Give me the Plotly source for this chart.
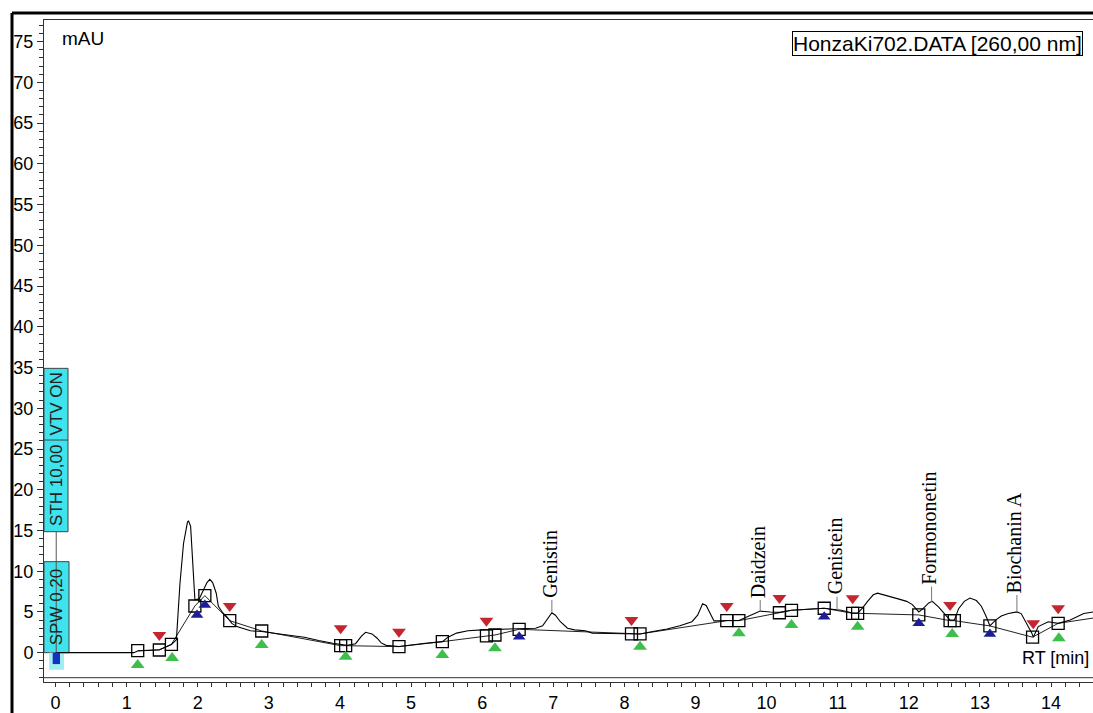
import plotly.graph_objects as go

# ---- chromatogram trace: retention time [min] vs absorbance [mAU] ----
rt = [0.0, 1.10, 1.156, 1.46, 1.63, 1.70, 1.75, 1.80, 1.855, 1.87, 1.90, 1.93, 1.96,
      2.02, 2.08, 2.13, 2.17, 2.21, 2.26, 2.29, 2.35, 2.41, 2.48, 2.55, 2.74, 2.9,
      3.1, 3.3, 3.5, 3.7, 3.9, 4.1, 4.22, 4.30, 4.36, 4.45, 4.52, 4.58, 4.65, 4.83,
      5.0, 5.2, 5.44, 5.52, 5.64, 5.8, 6.0, 6.2, 6.52, 6.75, 6.85, 6.93, 6.98, 7.03,
      7.1, 7.2, 7.3, 7.45, 7.55, 7.8, 8.1, 8.22, 8.4, 8.6, 8.78, 8.95, 9.03, 9.1,
      9.15, 9.21, 9.26, 9.35, 9.44, 9.61, 9.72, 9.85, 9.91, 10.05, 10.18, 10.35,
      10.5, 10.81, 10.95, 11.05, 11.15, 11.21, 11.28, 11.35, 11.42, 11.5, 11.56,
      11.7, 11.85, 11.97, 12.05, 12.14, 12.2, 12.28, 12.33, 12.42, 12.5, 12.58,
      12.64, 12.7, 12.78, 12.86, 12.95, 13.02, 13.08, 13.14, 13.22, 13.3, 13.4,
      13.52, 13.58, 13.66, 13.73, 13.75, 13.82, 13.96, 14.1, 14.27, 14.46, 14.6]
mau = [0.0, 0.0, 0.2, 0.35, 1.0, 1.6, 8.5, 13.4, 16.0, 16.2, 15.5, 10.6, 6.5,
       6.6, 7.6, 8.6, 9.0, 8.6, 7.3, 5.7, 4.9, 4.4, 3.6, 3.2, 2.7, 2.6,
       2.35, 2.1, 1.9, 1.5, 1.15, 0.9, 1.1, 2.0, 2.5, 2.3, 1.8, 1.2, 0.9, 0.75,
       0.95, 1.15, 1.35, 1.9, 2.4, 2.7, 2.8, 2.85, 2.9, 3.0, 3.3, 4.3, 4.9, 4.6,
       3.8, 3.0, 2.8, 2.7, 2.4, 2.35, 2.3, 2.3, 2.6, 2.9, 3.3, 3.8, 4.6, 6.0,
       5.8, 4.8, 3.9, 3.9, 3.95, 3.95, 4.4, 4.9, 5.1, 5.0, 4.95, 5.2,
       5.3, 5.45, 5.3, 5.2, 5.0, 4.85, 4.85, 5.5, 6.3, 7.1, 7.3,
       7.0, 6.6, 6.3, 5.9, 5.0, 5.4, 6.1, 6.3, 5.6, 4.8, 4.0,
       4.0, 5.4, 6.3, 6.7, 6.4, 5.7, 4.6, 3.3, 4.0, 4.5, 4.8,
       5.0, 4.8, 3.6, 2.4, 1.9, 3.2, 3.8, 3.6, 4.0, 4.8, 5.0]

# ---- integration baseline (open squares) ----
base_rt = [1.156, 1.46, 1.63, 1.96, 2.10, 2.45, 2.90, 4.01, 4.08, 4.83, 5.44, 6.06,
           6.18, 6.52, 8.10, 8.22, 9.44, 9.61, 10.18, 10.35, 10.81, 11.21, 11.28,
           12.14, 12.58, 12.64, 13.14, 13.74, 14.10]
base_mau = [0.25, 0.33, 1.03, 5.73, 7.0, 3.93, 2.66, 0.86, 0.86, 0.74, 1.35, 2.05,
            2.17, 2.87, 2.3, 2.3, 3.93, 3.93, 4.9, 5.2, 5.45, 4.83, 4.83,
            4.63, 3.93, 3.93, 3.28, 1.9, 3.6]
base_tail_rt = [14.10, 14.6]
base_tail_mau = [3.6, 4.26]

# ---- peak event flags ----
end_rt = [1.46, 2.45, 4.01, 4.83, 6.06, 8.10, 9.44, 10.18, 11.21, 12.58, 13.75, 14.10]
end_mau = [2.17, 5.73, 3.0, 2.58, 3.93, 4.01, 5.73, 6.71, 6.68, 5.85, 3.6, 5.45]

start_rt = [1.156, 1.64, 2.90, 4.08, 5.44, 6.18, 8.22, 9.61, 10.35, 11.28, 12.61, 14.11]
start_mau = [-1.5, -0.65, 0.95, -0.49, -0.28, 0.54, 0.74, 2.38, 3.4, 3.19, 2.3, 1.77]

valley_rt = [1.99, 2.10, 6.52, 10.81, 12.14, 13.14]
valley_mau = [4.63, 5.85, 1.96, 4.42, 3.6, 2.3]

# ---- identified compounds ----
peak_names = ["Genistin", "Daidzein", "Genistein", "Formononetin", "Biochanin A"]
peak_rt = [6.98, 9.91, 10.99, 12.32, 13.52]
peak_top = [4.9, 5.03, 5.24, 6.26, 5.03]
label_base = [6.47, 6.47, 6.87, 8.1, 7.08]

x_ticks = list(range(0, 15))
y_ticks = list(range(0, 80, 5))

X_RANGE = [-0.162, 14.59]
Y_RANGE = [-3.6, 77.66]

RED = "#c3262e"
GREEN = "#3dbf4c"
BLUE = "#1d1d9a"
CYAN = "#3fe3ee"
SANS = "Liberation Sans"

fig = go.Figure()

fig.add_trace(go.Scatter(x=base_rt + base_tail_rt[1:], y=base_mau + base_tail_mau[1:],
                         mode="lines", line=dict(color="#222222", width=1),
                         hoverinfo="skip", showlegend=False))
fig.add_trace(go.Scatter(x=rt, y=mau, mode="lines",
                         line=dict(color="black", width=1.1),
                         showlegend=False))
fig.add_trace(go.Scatter(x=base_rt, y=base_mau, mode="markers",
                         marker=dict(symbol="square-open", size=12, color="black",
                                     line=dict(width=1.3)),
                         showlegend=False))
fig.add_trace(go.Scatter(x=end_rt, y=end_mau, mode="markers",
                         marker=dict(symbol="triangle-down", size=12, color=RED),
                         showlegend=False))
fig.add_trace(go.Scatter(x=start_rt, y=start_mau, mode="markers",
                         marker=dict(symbol="triangle-up", size=12, color=GREEN),
                         showlegend=False))
fig.add_trace(go.Scatter(x=valley_rt, y=valley_mau, mode="markers",
                         marker=dict(symbol="triangle-up", size=11, color=BLUE),
                         showlegend=False))

shapes = []
# leader lines from the peak apex to its name
for x, y0, y1 in zip(peak_rt, peak_top, label_base):
    shapes.append(dict(type="line", xref="x", yref="y", x0=x, x1=x, y0=y0, y1=y1,
                       line=dict(color="#777777", width=1)))

# parameter boxes at t = 0
shapes += [
    dict(type="rect", xref="x", yref="y", x0=-0.162, x1=0.176, y0=14.85, y1=34.9,
         fillcolor=CYAN, line=dict(color="#444444", width=1), layer="below"),
    dict(type="line", xref="x", yref="y", x0=-0.162, x1=0.176, y0=26.1, y1=26.1,
         line=dict(color="#444444", width=1)),
    dict(type="rect", xref="x", yref="y", x0=-0.162, x1=0.19, y0=0, y1=11.17,
         fillcolor=CYAN, line=dict(color="#444444", width=1), layer="below"),
    dict(type="line", xref="x", yref="y", x0=0.01, x1=0.01, y0=0, y1=14.85,
         line=dict(color="#555555", width=1)),
    dict(type="rect", xref="x", yref="y", x0=-0.09, x1=0.12, y0=-2.1, y1=0,
         fillcolor="#9eeef4", line=dict(width=0), layer="below"),
    dict(type="rect", xref="x", yref="y", x0=-0.04, x1=0.063, y0=-1.4, y1=0,
         fillcolor="#1530c0", line=dict(width=0)),
]
# double bottom axis rule and outer frame
shapes += [
    dict(type="line", xref="paper", yref="paper", x0=0, x1=1, y0=0.0065, y1=0.0065,
         line=dict(color="#333333", width=1)),
    dict(type="line", xref="paper", yref="paper", x0=-0.0305, x1=-0.0305, y0=-0.1, y1=1.0106,
         line=dict(color="black", width=3)),
    dict(type="line", xref="paper", yref="paper", x0=-0.0305, x1=1.05, y0=1.0106, y1=1.0106,
         line=dict(color="black", width=3)),
]

annotations = []
for name, x, yb in zip(peak_names, peak_rt, label_base):
    annotations.append(dict(x=x, y=yb, xref="x", yref="y", text=name, showarrow=False,
                            textangle=-90, xanchor="center", yanchor="bottom", xshift=-2,
                            font=dict(family="Liberation Serif", size=20, color="black")))

annotations += [
    dict(x=0.01, y=20.5, xref="x", yref="y", text="STH 10,00", showarrow=False,
         textangle=-90, font=dict(family=SANS, size=17, color="#222222")),
    dict(x=0.01, y=30.5, xref="x", yref="y", text="VTV ON", showarrow=False,
         textangle=-90, font=dict(family=SANS, size=17, color="#222222")),
    dict(x=0.01, y=5.6, xref="x", yref="y", text="SPW 0,20", showarrow=False,
         textangle=-90, font=dict(family=SANS, size=17, color="#222222")),
    dict(x=0.0153, y=0.972, xref="paper", yref="paper", text="mAU", showarrow=False,
         xanchor="left", yanchor="middle",
         font=dict(family=SANS, size=19, color="black")),
    dict(x=0.990, y=0.965, xref="paper", yref="paper", text="HonzaKi702.DATA [260,00 nm]",
         showarrow=False, xanchor="right", yanchor="middle",
         bordercolor="black", borderwidth=1, borderpad=0,
         font=dict(family=SANS, size=21, color="black")),
    dict(x=0.998, y=0.036, xref="paper", yref="paper", text="RT [min]", showarrow=False,
         xanchor="right", yanchor="middle",
         font=dict(family=SANS, size=18, color="black")),
]

fig.update_layout(
    width=1093, height=713,
    margin=dict(l=44, r=0, t=20, b=31),
    paper_bgcolor="white", plot_bgcolor="white",
    shapes=shapes, annotations=annotations,
    showlegend=False,
    xaxis=dict(range=X_RANGE, tickmode="array", tickvals=x_ticks,
               ticktext=[str(v) for v in x_ticks],
               showgrid=False, zeroline=False, showline=True, linecolor="#333333",
               linewidth=1, mirror=True, ticks="outside", ticklen=4, tickcolor="#333333",
               minor=dict(dtick=0.2, ticks="outside", ticklen=4, tickcolor="#333333"),
               tickfont=dict(family=SANS, size=18, color="black")),
    yaxis=dict(range=Y_RANGE, tickmode="array", tickvals=y_ticks,
               ticktext=[str(v) for v in y_ticks],
               showgrid=False, zeroline=False, showline=True, linecolor="#333333",
               linewidth=1, ticks="outside", ticklen=6, tickcolor="#333333",
               minor=dict(dtick=1, ticks="outside", ticklen=4, tickcolor="#333333"),
               tickfont=dict(family=SANS, size=18, color="black")),
)

fig.write_html("out.html")
